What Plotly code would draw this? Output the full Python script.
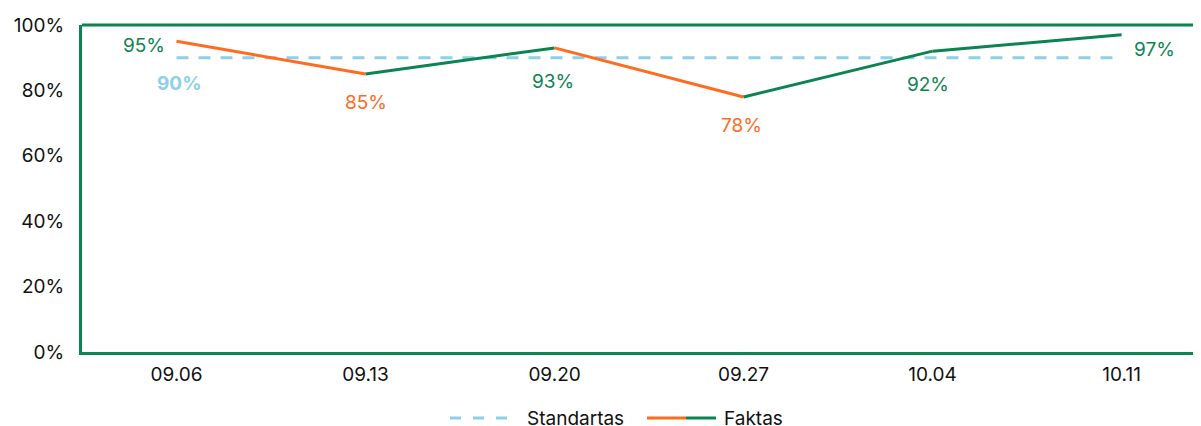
import plotly.graph_objects as go

categories = ["09.06", "09.13", "09.20", "09.27", "10.04", "10.11"]
faktas = [95, 85, 93, 78, 92, 97]
standartas = [90, 90, 90, 90, 90, 90]
y_ticks = [0, 20, 40, 60, 80, 100]

GREEN = "#0b8451"
ORANGE = "#ff6b1f"
BLUE = "#8fd0e8"
FONT = "Inter"
FS = 19

# figure geometry (page body adds an 8px offset)
W, H = 1193, 418
ML, MT, MB = 74, 17, 74
PW, PH = W - ML, H - MT - MB


def col(v):
    return GREEN if v >= standartas[0] else ORANGE


def px(X):  # window x -> paper x
    return (X - 8 - ML) / PW


def py(Y):  # window y -> paper y
    return (H - MB - (Y - 8)) / PH


fig = go.Figure()

fig.add_trace(go.Scatter(
    x=categories, y=standartas, mode="lines", name="Standartas", showlegend=False,
    line=dict(color=BLUE, width=3, dash="12px,10px"),
))

for i in range(len(categories) - 1):
    fig.add_trace(go.Scatter(
        x=categories[i:i + 2], y=faktas[i:i + 2], mode="lines",
        line=dict(color=col(faktas[i + 1]), width=3),
        showlegend=False, name="Faktas", hoverinfo="skip",
    ))

# label offsets (style): (xanchor, xshift, yshift)
label_style = [("right", -10, -4), ("center", 0, -28), ("center", -2, -34),
               ("center", -2, -29), ("center", -5, -33), ("left", 10, -15)]

annots = []
for i, v in enumerate(faktas):
    xa, xs, ys = label_style[i]
    annots.append(dict(x=i, y=v, xref="x", yref="y", text=f"{v}%", showarrow=False,
                       xanchor=xa, yanchor="middle", xshift=xs, yshift=ys,
                       font=dict(color=col(v), size=FS, family=FONT)))

annots.append(dict(x=0, y=standartas[0], xref="x", yref="y",
                   text=f"<b>{standartas[0]}%</b>",
                   showarrow=False, xanchor="center", yanchor="middle", yshift=-26, xshift=2,
                   font=dict(color=BLUE, size=FS, family=FONT)))

# manual legend
leg_y = py(418)
annots.append(dict(x=px(525), y=leg_y, xref="paper", yref="paper", text="Standartas",
                   showarrow=False, xanchor="left", yanchor="middle",
                   font=dict(size=FS, family=FONT, color="#111")))
annots.append(dict(x=px(722), y=leg_y, xref="paper", yref="paper", text="Faktas",
                   showarrow=False, xanchor="left", yanchor="middle",
                   font=dict(size=FS, family=FONT, color="#111")))

shapes = [
    dict(type="line", xref="paper", yref="paper", x0=0, x1=1, y0=1, y1=1,
         line=dict(color=GREEN, width=3)),
    dict(type="line", xref="paper", yref="paper", x0=px(450), x1=px(509), y0=leg_y, y1=leg_y,
         line=dict(color=BLUE, width=3, dash="11px,12px")),
    dict(type="line", xref="paper", yref="paper", x0=px(647), x1=px(686), y0=leg_y, y1=leg_y,
         line=dict(color=ORANGE, width=3)),
    dict(type="line", xref="paper", yref="paper", x0=px(686), x1=px(716), y0=leg_y, y1=leg_y,
         line=dict(color=GREEN, width=3)),
]

fig.update_layout(
    width=W, height=H,
    margin=dict(l=ML, r=0, t=MT, b=MB, autoexpand=False),
    paper_bgcolor="white", plot_bgcolor="white",
    font=dict(family=FONT, size=FS, color="#111"),
    showlegend=False,
    annotations=annots,
    shapes=shapes,
    xaxis=dict(
        type="category", range=[-0.5, 5.42], showgrid=False,
        showline=True, linecolor=GREEN, linewidth=3,
        ticks="", ticklabelstandoff=3, tickfont=dict(size=FS),
    ),
    yaxis=dict(
        range=[0, 100], tickvals=y_ticks, ticktext=[f"{t}%" for t in y_ticks],
        showgrid=False, zeroline=False,
        showline=True, linecolor=GREEN, linewidth=3,
        ticks="", ticklabelstandoff=11, tickfont=dict(size=FS),
    ),
)

fig.write_html("out.html")
